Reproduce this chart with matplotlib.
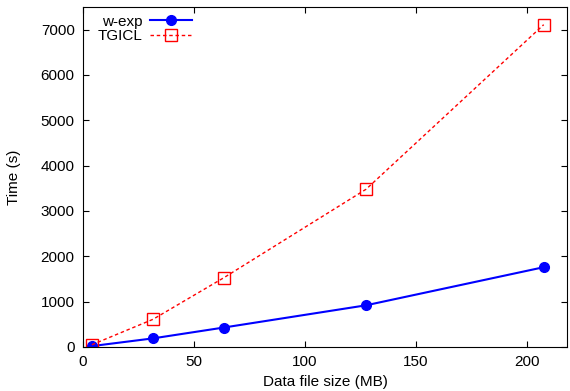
import matplotlib
matplotlib.use("Agg")
import matplotlib.pyplot as plt

plt.rcParams['font.family'] = ['Liberation Sans', 'DejaVu Sans']

# file sizes (MB) and run times (s)
sizes = [4, 31.5, 63.5, 127.5, 207.5]
wexp_time = [20, 190, 430, 920, 1760]
tgicl_time = [50, 610, 1530, 3480, 7110]

fig = plt.figure(figsize=(5.7, 3.91), dpi=100)
ax = fig.add_axes([83 / 570, 1 - 347 / 391, (567 - 83) / 570, (347 - 7) / 391])

ax.plot(sizes, wexp_time, color="blue", linewidth=1.5, marker="o", markersize=7,
        label="w-exp")
ax.plot(sizes, tgicl_time, color="red", linewidth=1, linestyle=(0, (2.5, 2)),
        marker="s", markersize=9, markerfacecolor="none", markeredgewidth=1,
        label="TGICL")

ax.set_xlim(0, 218)
ax.set_ylim(0, 7500)
ax.set_xticks([0, 50, 100, 150, 200])
ax.set_yticks(range(0, 7001, 1000))
ax.tick_params(direction="in", top=True, right=True, labelsize=11, length=4, pad=6)
ax.set_xlabel("Data file size (MB)", fontsize=11, labelpad=4)
ax.set_ylabel("Time (s)", fontsize=11, labelpad=14)

ax.legend(loc="upper left", frameon=False, fontsize=11, markerfirst=False,
          handlelength=2.7, borderaxespad=0.1, labelspacing=0.05, handletextpad=0.5,
          bbox_to_anchor=(0.015, 1.0))

fig.savefig("out.png", dpi=100)
